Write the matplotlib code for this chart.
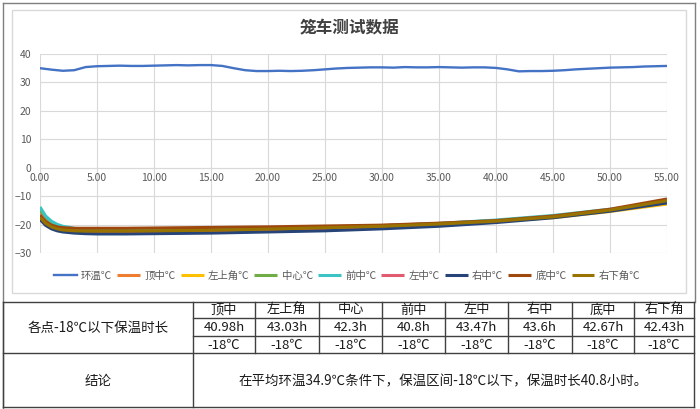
import matplotlib
matplotlib.use('Agg')
import matplotlib.pyplot as plt
from matplotlib.patches import Rectangle

plt.rcParams['font.family'] = ['Noto Sans CJK SC', 'DejaVu Sans']

# ambient temperature, one reading per hour
amb_t = list(range(0, 56))
amb = [35.0, 34.5, 34.1, 34.3, 35.4, 35.7, 35.8, 35.9, 35.8, 35.8,
       35.9, 36.0, 36.1, 36.0, 36.1, 36.1, 35.8, 35.0, 34.3, 34.0,
       34.0, 34.1, 34.0, 34.1, 34.3, 34.6, 34.9, 35.1, 35.2, 35.3,
       35.3, 35.2, 35.4, 35.3, 35.3, 35.4, 35.3, 35.2, 35.3, 35.3,
       35.1, 34.6, 33.9, 34.0, 34.0, 34.1, 34.3, 34.6, 34.8, 35.0,
       35.2, 35.3, 35.4, 35.6, 35.7, 35.8]

# probe readings
cold_t = [0, 0.5, 1, 1.5, 2, 3, 4, 5, 7.5, 10, 15, 20, 25, 30, 35, 40, 45, 50, 55]
top_mid = [-15.5, -18.2, -19.6, -20.4, -20.9, -21.4, -21.6, -21.7, -21.7, -21.6,
           -21.4, -21.1, -20.8, -20.3, -19.6, -18.6, -17.2, -15.0, -12.2]
top_left = [-16.0, -18.6, -20.0, -20.8, -21.3, -21.8, -22.0, -22.1, -22.1, -22.0,
            -21.8, -21.5, -21.1, -20.6, -19.9, -18.9, -17.6, -15.4, -12.8]
center = [-15.0, -18.0, -19.5, -20.4, -21.0, -21.6, -21.8, -21.9, -21.9, -21.8,
          -21.6, -21.3, -20.9, -20.4, -19.7, -18.6, -17.1, -14.9, -12.2]
front_mid = [-13.8, -17.0, -18.8, -19.9, -20.6, -21.3, -21.6, -21.8, -21.9, -21.9,
             -21.6, -21.3, -20.9, -20.4, -19.6, -18.4, -16.8, -14.6, -12.0]
left_mid = [-16.5, -19.0, -20.4, -21.2, -21.7, -22.2, -22.4, -22.5, -22.5, -22.4,
            -22.2, -21.8, -21.4, -20.8, -20.0, -18.9, -17.4, -15.1, -12.3]
right_mid = [-18.2, -20.3, -21.5, -22.2, -22.6, -23.0, -23.2, -23.3, -23.3, -23.2,
             -23.0, -22.6, -22.2, -21.5, -20.6, -19.3, -17.6, -15.3, -12.4]
bottom_mid = [-16.8, -19.0, -20.2, -20.8, -21.1, -21.3, -21.3, -21.3, -21.3, -21.2,
              -21.0, -20.8, -20.5, -20.2, -19.5, -18.6, -17.0, -14.6, -11.0]
bottom_right = [-17.5, -19.6, -20.8, -21.5, -21.9, -22.2, -22.3, -22.3, -22.3, -22.2,
                -22.0, -21.6, -21.1, -20.6, -19.8, -18.8, -17.3, -14.9, -11.6]

cold_series = [top_mid, top_left, center, front_mid, left_mid, right_mid, bottom_mid, bottom_right]
labels = ['环温℃', '顶中℃', '左上角℃', '中心℃', '前中℃', '左中℃', '右中℃', '底中℃', '右下角℃']
colors = ['#4472C4', '#ED7D31', '#FFC000', '#70AD47', '#3CC4C4', '#E05A70', '#264478', '#9E480E', '#997300']

points = ['顶中', '左上角', '中心', '前中', '左中', '右中', '底中', '右下角']
hours = ['40.98h', '43.03h', '42.3h', '40.8h', '43.47h', '43.6h', '42.67h', '42.43h']
limits = ['-18℃'] * 8
conclusion = '在平均环温34.9℃条件下，保温区间-18℃以下，保温时长40.8小时。'

W, H = 700, 409
fig = plt.figure(figsize=(7, 4.09), dpi=100)

# background layer in pixel coordinates (frames and table)
bg = fig.add_axes([0, 0, 1, 1])
bg.set_xlim(0, W)
bg.set_ylim(H, 0)
bg.axis('off')
bg.add_patch(Rectangle((12, 10), 674, 283, facecolor='white', edgecolor='#D9D9D9', lw=1))
dark = '#404040'
bg.plot([3, 3], [3, 409], color='#7F7F7F', lw=1)
bg.plot([3, 695], [3, 3], color='#7F7F7F', lw=1)
bg.plot([695, 695], [3, 302], color='#7F7F7F', lw=1)

# table
x0, x1, xs = 3, 694, 193
col_x = [193, 255, 319, 382, 445, 508, 572, 634, 694]
for y in [302, 353, 407]:
    bg.plot([x0, x1], [y, y], color=dark, lw=1)
for y in [318, 336]:
    bg.plot([xs, x1], [y, y], color=dark, lw=1)
bg.plot([x0, x0], [302, 407], color=dark, lw=1)
bg.plot([x1, x1], [302, 407], color=dark, lw=1)
bg.plot([xs, xs], [302, 407], color=dark, lw=1)
for x in col_x[1:-1]:
    bg.plot([x, x], [302, 353], color=dark, lw=1)

tc = '#1A1A1A'
bg.text(98, 328, '各点-18℃以下保温时长', ha='center', va='center', fontsize=9.7, color=tc)
bg.text(98, 381, '结论', ha='center', va='center', fontsize=9.7, color=tc)
bg.text(443, 381, conclusion, ha='center', va='center', fontsize=9.7, color=tc)
for i in range(8):
    cx = (col_x[i] + col_x[i + 1]) / 2
    bg.text(cx, 310, points[i], ha='center', va='center', fontsize=9.5, color=tc)
    bg.text(cx, 327.5, hours[i], ha='center', va='center', fontsize=9.5, color=tc)
    bg.text(cx, 345, limits[i], ha='center', va='center', fontsize=9.5, color=tc)

# chart
ax = fig.add_axes([40 / W, 1 - 253 / H, 627 / W, 199 / H])
ax.patch.set_alpha(0)
ax.plot(amb_t, amb, color=colors[0], lw=1.7, label=labels[0])
for i, s in enumerate(cold_series):
    ax.plot(cold_t, s, color=colors[i + 1], lw=2.2, label=labels[i + 1], solid_capstyle='butt')

ax.set_xlim(0, 55)
ax.set_ylim(-30, 40)
ax.set_xticks(range(0, 56, 5))
ax.set_xticklabels(['%.2f' % v for v in range(0, 56, 5)])
ax.set_yticks(range(-30, 41, 10))
ax.grid(True, color='#D9D9D9', lw=0.8)
ax.set_axisbelow(True)
for sp in ['top', 'right', 'left']:
    ax.spines[sp].set_visible(False)
ax.spines['bottom'].set_position(('data', 0))
ax.spines['bottom'].set_color('#D9D9D9')
ax.tick_params(length=0, labelsize=7.5, labelcolor='#595959')
ax.tick_params(axis='y', pad=6)
ax.tick_params(axis='x', pad=4)

fig.text(350 / W, 1 - 28 / H, '笼车测试数据', ha='center', va='center',
         fontsize=12, fontweight='bold', color='#404040')

handles, labs = ax.get_legend_handles_labels()
leg = fig.legend(handles, labs, loc='center', bbox_to_anchor=(347 / W, 1 - 276 / H),
                 ncol=9, frameon=False, fontsize=7.5, handlelength=2.2,
                 columnspacing=0.5, handletextpad=0.4)
for t in leg.get_texts():
    t.set_color('#595959')

fig.savefig('out.png', dpi=100)
